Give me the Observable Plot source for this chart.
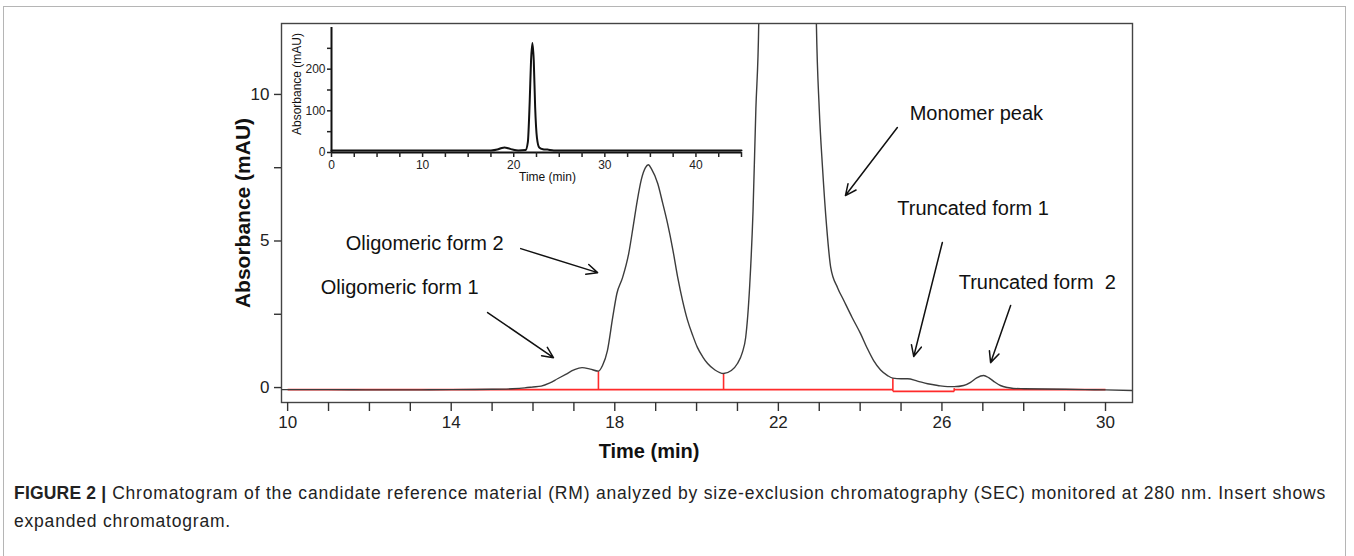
<!DOCTYPE html>
<html>
<head>
<meta charset="utf-8">
<script src="https://cdn.jsdelivr.net/npm/d3@7"></script>
<script src="https://cdn.jsdelivr.net/npm/@observablehq/plot@0.6"></script>
<style>
  html, body { margin: 0; padding: 0; background: #fff; }
  body { width: 1354px; height: 556px; position: relative; overflow: hidden; font-family: "Liberation Sans", Arial, sans-serif; }
  #frame { position: absolute; left: 3px; top: 6px; width: 1343px; height: 600px; border: 1px solid #b5b5b5; box-sizing: border-box; }
  #main { position: absolute; left: 0; top: 0; }
  #inset { position: absolute; left: 282px; top: 16px; }
  #caption { position: absolute; left: 14px; top: 479px; width: 1335px; font-size: 17.5px; letter-spacing: 0.8px; line-height: 28px; color: #222; white-space: nowrap; }
  #caption b { font-weight: bold; letter-spacing: 0.2px; }
</style>
</head>
<body>
<div id="frame"></div>
<div id="main"></div>
<div id="inset"></div>
<div id="caption"><b>FIGURE 2 |</b> Chromatogram of the candidate reference material (RM) analyzed by size-exclusion chromatography (SEC) monitored at 280 nm. Insert shows<br>expanded chromatogram.</div>
<script>
// ---- Main chromatogram (time in min, absorbance in mAU) ----
const mainTime = [9.85, 10, 11, 12, 13, 14, 15, 15.5, 15.8, 16, 16.2, 16.4, 16.6, 16.8, 17, 17.2, 17.4, 17.6, 17.7, 17.82, 17.95, 18.05, 18.19, 18.34, 18.45, 18.55, 18.65, 18.75, 18.82, 18.9, 19.05, 19.17, 19.29, 19.42, 19.54, 19.66, 19.78, 19.9, 20.02, 20.15, 20.27, 20.45, 20.66, 20.85, 21, 21.12, 21.2, 21.3, 21.38, 21.45, 21.52, 21.6, 21.75, 22.0, 22.15, 22.35, 22.6, 22.8, 22.93, 23.0, 23.08, 23.18, 23.28, 23.45, 23.6, 23.8, 24.01, 24.17, 24.33, 24.5, 24.67, 24.8, 25.0, 25.16, 25.4, 25.65, 25.9, 26.14, 26.3, 26.53, 26.7, 26.85, 27.02, 27.15, 27.3, 27.43, 27.6, 27.75, 28, 28.5, 29, 29.5, 30, 30.66];
const mainAbs  = [-0.07, -0.07, -0.07, -0.08, -0.08, -0.07, -0.06, -0.04, -0.01, 0.02, 0.05, 0.15, 0.3, 0.45, 0.6, 0.68, 0.63, 0.56, 0.75, 1.26, 2.4, 3.2, 3.75, 4.57, 5.5, 6.38, 7.1, 7.5, 7.6, 7.45, 6.96, 6.3, 5.6, 4.7, 3.75, 2.95, 2.29, 1.8, 1.37, 1.05, 0.82, 0.6, 0.48, 0.58, 0.82, 1.2, 1.7, 3.5, 6, 9.5, 12.4, 25, 90, 220, 265, 230, 100, 30, 12.4, 9.5, 7.5, 5.5, 4.1, 3.4, 2.97, 2.4, 1.84, 1.35, 0.92, 0.6, 0.41, 0.32, 0.3, 0.3, 0.22, 0.13, 0.07, 0.03, 0.03, 0.07, 0.18, 0.33, 0.41, 0.33, 0.18, 0.07, 0.0, -0.03, -0.04, -0.05, -0.06, -0.07, -0.08, -0.1];

// ---- Red integration baseline and drop lines ----
const baseX1 = [10, 24.8, 26.3, 17.6, 20.66, 24.8, 26.3];
const baseY1 = [-0.07, -0.13, -0.07, -0.07, -0.07, -0.13, -0.13];
const baseX2 = [24.8, 26.3, 30, 17.6, 20.66, 24.8, 26.3];
const baseY2 = [-0.07, -0.13, -0.07, 0.56, 0.48, 0.32, -0.02];

// ---- Inset (expanded chromatogram) ----
const insetTime = [0, 17.5, 18.2, 18.7, 19.0, 19.4, 19.9, 20.5, 21.3, 21.55, 21.75, 21.9, 22.05, 22.2, 22.35, 22.55, 22.8, 23.2, 23.7, 24.4, 45];
const insetAbs  = [5, 5, 7, 11, 12, 10, 7, 5, 6, 25, 120, 220, 263, 220, 110, 35, 12, 8, 7, 5, 5];

// ---- Annotations ----
const leftLabelText  = ["Oligomeric form 2", "Oligomeric form 1"];
const leftLabelTime  = [15.28, 14.67];
const leftLabelAbs   = [4.91, 3.41];
const rightLabelText = ["Monomer peak", "Truncated form 1", "Truncated form  2"];
const rightLabelTime = [25.21, 24.91, 26.41];
const rightLabelAbs  = [9.35, 6.11, 3.58];
const arrowX1 = [15.70, 14.89, 24.91, 26.01, 27.68];
const arrowY1 = [4.74, 2.56, 8.87, 4.95, 2.80];
const arrowX2 = [17.58, 16.50, 23.64, 25.31, 27.19];
const arrowY2 = [3.92, 1.02, 6.55, 1.06, 0.85];

// ---- Axis ticks ----
const xTicks = d3.range(10, 31, 1);
const xTickLabels = [10, 14, 18, 22, 26, 30];
const yTicks = [0, 2.5, 5, 7.5, 10];
const yTickLabels = [0, 5, 10];
const insetXTicks = d3.range(0, 45.1, 2.5);
const insetXTickLabels = [0, 10, 20, 30, 40];
const insetYTicks = [0, 50, 100, 150, 200, 250];
const insetYTickLabels = [0, 100, 200];

const curve = mainTime.map((t, i) => ({t, a: mainAbs[i]}));
const base = baseX1.map((x, i) => ({x1: x, y1: baseY1[i], x2: baseX2[i], y2: baseY2[i]}));
const leftLabels = leftLabelText.map((s, i) => ({s, t: leftLabelTime[i], a: leftLabelAbs[i]}));
const rightLabels = rightLabelText.map((s, i) => ({s, t: rightLabelTime[i], a: rightLabelAbs[i]}));
const arrows = arrowX1.map((x, i) => ({x1: x, y1: arrowY1[i], x2: arrowX2[i], y2: arrowY2[i]}));
const inset = insetTime.map((t, i) => ({t, a: insetAbs[i]}));

const font = "'Liberation Sans', Arial, sans-serif";

const main = Plot.plot({
  width: 1354, height: 470,
  marginLeft: 281, marginRight: 222, marginTop: 23, marginBottom: 68,
  style: {fontFamily: font, color: "#222", background: "transparent"},
  x: {domain: [9.85, 30.66]},
  y: {domain: [-0.51, 12.42]},
  marks: [
    Plot.link(base, {x1: "x1", y1: "y1", x2: "x2", y2: "y2", stroke: "#ff2b2b", strokeWidth: 1.6}),
    Plot.line(curve, {x: "t", y: "a", stroke: "#3c3c3c", strokeWidth: 1.4, curve: "monotone-x", clip: true}),
    Plot.frame({stroke: "#444", strokeWidth: 1.4}),
    Plot.axisX({ticks: xTicks, tickSize: 9, tickPadding: 4, fontSize: 17, strokeWidth: 1.4, stroke: "#333",
      tickFormat: d => xTickLabels.includes(d) ? String(d) : "", label: null}),
    Plot.axisY({ticks: yTicks, tickSize: 7, tickPadding: 5, fontSize: 17, strokeWidth: 1.4, stroke: "#333",
      tickFormat: d => yTickLabels.includes(d) ? String(d) : "", label: null}),
    Plot.text(["Time (min)"], {frameAnchor: "bottom", text: d => d, dx: -58, dy: 55, fontSize: 20, fontWeight: "bold", fill: "#111"}),
    Plot.text(["Absorbance (mAU)"], {frameAnchor: "left", text: d => d, dx: -38, rotate: -90, textAnchor: "middle", fontSize: 21, fontWeight: "bold", fill: "#111"}),
    Plot.arrow(arrows, {x1: "x1", y1: "y1", x2: "x2", y2: "y2", stroke: "#111", strokeWidth: 1.5, headLength: 12, headAngle: 50}),
    Plot.text(leftLabels, {x: "t", y: "a", text: "s", textAnchor: "end", fontSize: 20, fill: "#111"}),
    Plot.text(rightLabels, {x: "t", y: "a", text: "s", textAnchor: "start", fontSize: 20, fill: "#111"})
  ]
});
document.getElementById("main").appendChild(main);

const ins = Plot.plot({
  width: 470, height: 180,
  marginLeft: 49, marginRight: 11, marginTop: 11, marginBottom: 44,
  style: {fontFamily: font, color: "#222", background: "transparent"},
  x: {domain: [0, 45]},
  y: {domain: [0, 300]},
  marks: [
    Plot.line(inset, {x: "t", y: "a", stroke: "#111", strokeWidth: 2, curve: "monotone-x"}),
    Plot.ruleY([0], {stroke: "#111", strokeWidth: 2}),
    Plot.ruleX([0], {stroke: "#111", strokeWidth: 2}),
    Plot.axisX({ticks: insetXTicks, tickSize: 5, tickPadding: 3, fontSize: 12, strokeWidth: 1.5,
      tickFormat: d => insetXTickLabels.includes(d) ? String(d) : "", label: null}),
    Plot.axisY({ticks: insetYTicks, tickSize: 4, tickPadding: 2, fontSize: 12, strokeWidth: 1.5,
      tickFormat: d => insetYTickLabels.includes(d) ? String(d) : "", label: null}),
    Plot.text(["Time (min)"], {frameAnchor: "bottom", text: d => d, dx: 11, dy: 28, fontSize: 12, fill: "#111"}),
    Plot.text(["Absorbance (mAU)"], {frameAnchor: "left", text: d => d, dx: -34, dy: -6, rotate: -90, textAnchor: "middle", fontSize: 12, fill: "#111"})
  ]
});
document.getElementById("inset").appendChild(ins);
</script>
</body>
</html>
